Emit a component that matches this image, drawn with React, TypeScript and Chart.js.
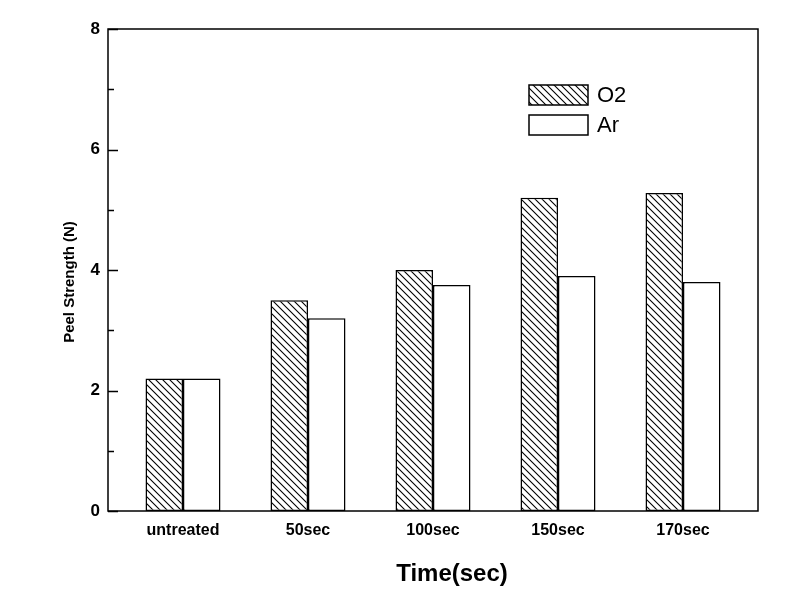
import React, { useEffect, useRef } from "react";
import { Chart, registerables } from "chart.js";

Chart.register(...registerables);

const categories = ["untreated", "50sec", "100sec", "150sec", "170sec"];
const o2Values = [2.2, 3.5, 4.0, 5.2, 5.28];
const arValues = [2.2, 3.2, 3.75, 3.9, 3.8];
const seriesNames = ["O2", "Ar"];
const yMajorTicks = [0, 2, 4, 6, 8];
const yMinorTicks = [1, 3, 5, 7];
const xTitle = "Time(sec)";
const yTitle = "Peel Strength (N)";

const FONT = "'Liberation Sans', Arial, Helvetica, sans-serif";

function makeHatch(): CanvasPattern | string {
  const s = 7;
  const c = document.createElement("canvas");
  c.width = s;
  c.height = s;
  const g = c.getContext("2d");
  if (!g) return "#fff";
  g.fillStyle = "#fff";
  g.fillRect(0, 0, s, s);
  g.strokeStyle = "#000";
  g.lineWidth = 1.1;
  g.beginPath();
  g.moveTo(-1, -1);
  g.lineTo(s + 1, s + 1);
  g.moveTo(-1, s - 1);
  g.lineTo(1, s + 1);
  g.moveTo(s - 1, -1);
  g.lineTo(s + 1, 1);
  g.stroke();
  const p = g.createPattern(c, "repeat");
  return p || "#fff";
}

export default function App() {
  const ref = useRef<HTMLCanvasElement | null>(null);

  useEffect(() => {
    if (!ref.current) return;
    const hatch = makeHatch();

    const decor = {
      id: "decor",
      afterDraw(chart: any) {
        const ctx = chart.ctx;
        const a = chart.chartArea;
        const ys = chart.scales.y;
        ctx.save();
        ctx.strokeStyle = "#000";
        ctx.lineWidth = 1.5;
        // frame
        ctx.strokeRect(a.left, a.top, a.right - a.left, a.bottom - a.top);
        // inward ticks
        ctx.beginPath();
        yMajorTicks.forEach((v) => {
          const y = Math.round(ys.getPixelForValue(v)) + 0.5;
          ctx.moveTo(a.left, y);
          ctx.lineTo(a.left + 10, y);
        });
        yMinorTicks.forEach((v) => {
          const y = Math.round(ys.getPixelForValue(v)) + 0.5;
          ctx.moveTo(a.left, y);
          ctx.lineTo(a.left + 6, y);
        });
        ctx.stroke();

        // legend
        const lx = 529;
        const bw = 59;
        const bh = 20;
        const rows = [85, 115];
        const fills = [hatch, "#fff"];
        ctx.font = `22px ${FONT}`;
        ctx.textBaseline = "middle";
        ctx.textAlign = "left";
        rows.forEach((ry, i) => {
          ctx.fillStyle = fills[i] as any;
          ctx.fillRect(lx, ry, bw, bh);
          ctx.strokeRect(lx, ry, bw, bh);
          ctx.fillStyle = "#000";
          ctx.fillText(seriesNames[i], lx + 68, ry + bh / 2 + 1);
        });

        // axis titles
        ctx.fillStyle = "#000";
        ctx.font = `bold 24px ${FONT}`;
        ctx.textAlign = "center";
        ctx.textBaseline = "middle";
        ctx.fillText(xTitle, 452, 574);

        ctx.save();
        ctx.translate(70, 282);
        ctx.rotate(-Math.PI / 2);
        ctx.font = `bold 15px ${FONT}`;
        ctx.fillText(yTitle, 0, 0);
        ctx.restore();

        ctx.restore();
      },
    };

    const chart = new Chart(ref.current, {
      type: "bar",
      data: {
        datasets: [
          {
            label: seriesNames[0],
            data: o2Values.map((v, i) => ({ x: i, y: v })),
            backgroundColor: hatch as any,
            borderColor: "#000",
            borderWidth: 1.5,
            borderSkipped: false,
          },
          {
            label: seriesNames[1],
            data: arValues.map((v, i) => ({ x: i, y: v })),
            backgroundColor: "#fff",
            borderColor: "#000",
            borderWidth: 1.5,
            borderSkipped: false,
          },
        ],
      },
      options: {
        animation: false,
        responsive: false,
        maintainAspectRatio: false,
        layout: { padding: { top: 29, right: 32, left: 0, bottom: 0 } },
        datasets: {
          bar: { categoryPercentage: 0.6, barPercentage: 1.0 },
        },
        plugins: {
          legend: { display: false },
          tooltip: { enabled: false },
        },
        scales: {
          x: {
            type: "linear",
            offset: false,
            min: -0.6,
            max: 4.6,
            grid: { display: false, drawTicks: false, offset: false },
            border: { display: false },
            afterBuildTicks: (axis: any) => {
              axis.ticks = categories.map((_, i) => ({ value: i }));
            },
            afterFit: (s: any) => {
              s.height = 93;
            },
            ticks: {
              autoSkip: false,
              maxRotation: 0,
              padding: 10,
              color: "#000",
              font: { family: FONT, size: 16, weight: "bold" },
              callback: (v: any) => categories[Math.round(Number(v))] ?? "",
            },
          },
          y: {
            min: 0,
            max: 8,
            grid: { display: false, drawTicks: false },
            border: { display: false },
            afterFit: (s: any) => {
              s.width = 108;
            },
            ticks: {
              stepSize: 2,
              padding: 8,
              color: "#000",
              font: { family: FONT, size: 17, weight: "bold" },
            },
          },
        },
      },
      plugins: [decor],
    } as any);

    return () => chart.destroy();
  }, []);

  return (
    <div style={{ position: "fixed", left: 0, top: 0, width: 790, height: 604, background: "#fff" }}>
      <canvas ref={ref} width={790} height={604} style={{ display: "block", width: 790, height: 604 }} />
    </div>
  );
}
